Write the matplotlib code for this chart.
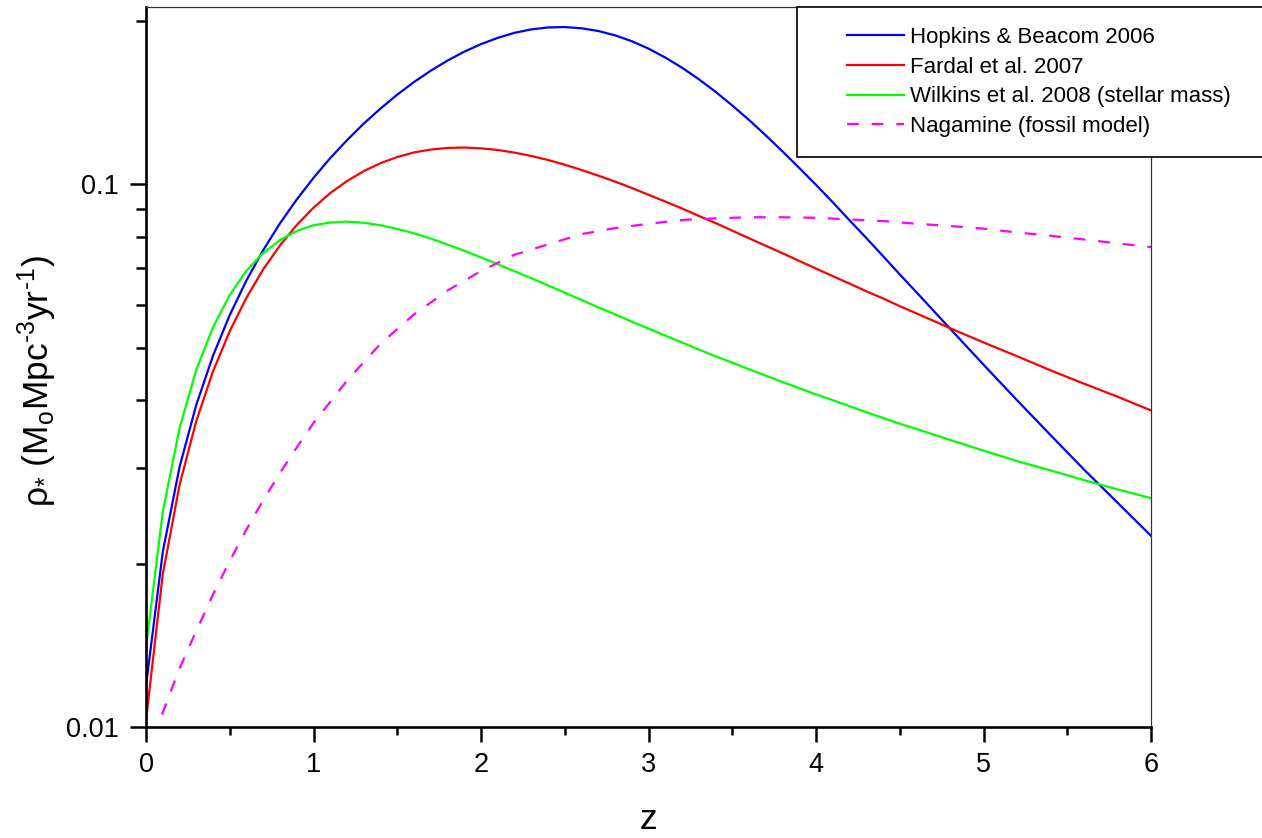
import matplotlib
matplotlib.use("Agg")
import matplotlib.pyplot as plt
from matplotlib import font_manager
from matplotlib.lines import Line2D
from matplotlib.legend_handler import HandlerLine2D
from matplotlib.ticker import LogLocator, NullFormatter, MultipleLocator

# the axis titles in the original are a tall, narrow sans
installed = {f.name for f in font_manager.fontManager.ttflist}
narrow = "Liberation Sans Narrow" if "Liberation Sans Narrow" in installed else "Liberation Sans"
title_size = 30 if narrow == "Liberation Sans Narrow" else 25.5

plt.rcParams['font.family'] = ['Liberation Sans', 'DejaVu Sans']
plt.rcParams['mathtext.fontset'] = 'custom'
plt.rcParams['mathtext.rm'] = narrow
plt.rcParams['mathtext.it'] = narrow
plt.rcParams['mathtext.default'] = 'regular'

# redshift grid for the three fitted curves
z = [0.0, 0.1, 0.2, 0.3, 0.4, 0.5, 0.6, 0.7, 0.8, 0.9, 1.0,
     1.1, 1.2, 1.3, 1.4, 1.5, 1.6, 1.7, 1.8, 1.9, 2.0,
     2.1, 2.2, 2.3, 2.4, 2.5, 2.6, 2.7, 2.8, 2.9, 3.0,
     3.1, 3.2, 3.3, 3.4, 3.5, 3.6, 3.7, 3.8, 3.9, 4.0,
     4.1, 4.2, 4.3, 4.4, 4.5, 4.6,
     4.8, 5.0, 5.2, 5.4, 5.6, 5.8, 6.0]

hopkins = [0.0119, 0.0210, 0.0301, 0.0392, 0.0483, 0.0574, 0.0665, 0.0756, 0.0847, 0.0937, 0.1027,
           0.1117, 0.1205, 0.1293, 0.1378, 0.1462, 0.1542, 0.1618, 0.1689, 0.1754, 0.1811,
           0.1860, 0.1900, 0.1928, 0.1944, 0.1947, 0.1937, 0.1915, 0.1880, 0.1834, 0.1777,
           0.1711, 0.1639, 0.1561, 0.1480, 0.1396, 0.1313, 0.1230, 0.1149, 0.1071, 0.0997,
           0.0926, 0.0858, 0.0796, 0.0737, 0.0682, 0.0632,
           0.0542, 0.0465, 0.0400, 0.0345, 0.0298, 0.0259, 0.0225]

fardal = [0.0103, 0.0191, 0.0279, 0.0366, 0.0452, 0.0536, 0.0618, 0.0697, 0.0771, 0.0841, 0.0905,
          0.0963, 0.1013, 0.1057, 0.1093, 0.1122, 0.1144, 0.1158, 0.1166, 0.1168, 0.1164,
          0.1156, 0.1143, 0.1127, 0.1108, 0.1086, 0.1062, 0.1037, 0.1011, 0.0984, 0.0956,
          0.0929, 0.0902, 0.0874, 0.0848, 0.0821, 0.0795, 0.0770, 0.0746, 0.0722, 0.0699,
          0.0677, 0.0656, 0.0635, 0.0616, 0.0596, 0.0578,
          0.0543, 0.0511, 0.0482, 0.0454, 0.0429, 0.0406, 0.0383]

wilkins = [0.0140, 0.0249, 0.0355, 0.0455, 0.0545, 0.0625, 0.0693, 0.0747, 0.0789, 0.0820, 0.0840,
           0.0850, 0.0853, 0.0849, 0.0840, 0.0827, 0.0812, 0.0794, 0.0774, 0.0754, 0.0733,
           0.0712, 0.0691, 0.0671, 0.0651, 0.0631, 0.0612, 0.0593, 0.0576, 0.0558, 0.0542,
           0.0526, 0.0511, 0.0496, 0.0482, 0.0469, 0.0456, 0.0444, 0.0432, 0.0421, 0.0410,
           0.0400, 0.0390, 0.0380, 0.0371, 0.0362, 0.0354,
           0.0338, 0.0323, 0.0309, 0.0297, 0.0285, 0.0274, 0.0264]

# Nagamine fossil model, read on its own grid
z_nag = [0.0, 0.1, 0.2, 0.3, 0.4, 0.5, 0.6, 0.7, 0.8, 0.9, 1.0,
         1.2, 1.4, 1.6, 1.8, 2.0, 2.2, 2.4, 2.6, 2.8, 3.0,
         3.2, 3.4, 3.6, 3.8, 4.0, 4.2, 4.4, 4.6, 4.8, 5.0,
         5.2, 5.4, 5.6, 5.8, 6.0]
nagamine = [0.00865, 0.01064, 0.01282, 0.01503, 0.01754, 0.02023, 0.02312, 0.02618, 0.02938, 0.03273, 0.03631,
            0.04345, 0.05082, 0.05754, 0.06368, 0.06918, 0.07413, 0.07745, 0.08091, 0.08299, 0.08453,
            0.08590, 0.08650, 0.08690, 0.08690, 0.08670, 0.08610, 0.08551, 0.08453, 0.08375, 0.08279,
            0.08147, 0.08035, 0.07907, 0.07780, 0.07656]

labels = ["Hopkins & Beacom 2006", "Fardal et al. 2007",
          "Wilkins et al. 2008 (stellar mass)", "Nagamine (fossil model)"]

W, H = 1262, 838
fig = plt.figure(figsize=(W / 100, H / 100), dpi=100)
ax = fig.add_axes([146 / W, 1 - 727 / H, (1151 - 146) / W, (727 - 7) / H])

ax.plot(z, hopkins, color="#0000ff", lw=1.6, label=labels[0])
ax.plot(z, fardal, color="#ff0000", lw=1.6, label=labels[1])
ax.plot(z, wilkins, color="#00ff00", lw=1.6, label=labels[2])
ax.plot(z_nag, nagamine, color="#ff00ff", lw=1.6, dashes=(5.3, 5.8), label=labels[3])

ax.set_yscale("log")
ax.set_xlim(0, 6)
ax.set_ylim(0.01, 0.212)

ax.set_yticks([0.01, 0.1])
ax.set_yticklabels(["0.01", "0.1"])
ax.yaxis.set_minor_locator(LogLocator(base=10, subs=range(2, 10)))
ax.yaxis.set_minor_formatter(NullFormatter())
ax.xaxis.set_major_locator(MultipleLocator(1))
ax.xaxis.set_minor_locator(MultipleLocator(0.5))

ax.tick_params(axis="both", which="major", direction="out", labelsize=19.5, width=1.8)
ax.tick_params(axis="y", which="major", length=11.5, pad=8)
ax.tick_params(axis="x", which="major", length=11, pad=7)
ax.tick_params(axis="y", which="minor", direction="out", length=7, width=1.8)
ax.tick_params(axis="x", which="minor", direction="out", length=6, width=1.8)
ax.tick_params(top=False, right=False, which="both")

for s in ["left", "bottom"]:
    ax.spines[s].set_linewidth(1.9)
for s in ["top", "right"]:
    ax.spines[s].set_linewidth(0.9)
    ax.spines[s].set_color("#333333")

leg = ax.legend(loc="upper left", bbox_to_anchor=(797 / W, 0.3, 520 / W, 0.7 - 7 / H),
                bbox_transform=fig.transFigure, mode="expand", borderaxespad=0,
                fontsize=16, frameon=True, fancybox=False, framealpha=1,
                handlelength=3.9, handletextpad=0.3, labelspacing=0.39, borderpad=0.9,
                handler_map={Line2D: HandlerLine2D(xpad=1.35)})
leg.get_frame().set_edgecolor("black")
leg.get_frame().set_linewidth(1.2)

fig.text(37 / W, 1 - 381 / H, "$\u03c1_{*}$ (M$_o$Mpc$^{\u2010 3}$yr$^{\u2010 1}$)",
         rotation=90, ha="center", va="center", fontsize=title_size, family=[narrow, "Liberation Sans"])
fig.text(648 / W, 1 - 829 / H, "z", ha="center", va="baseline", fontsize=title_size,
         family=[narrow, "Liberation Sans"])

fig.savefig("out.png", dpi=100)
